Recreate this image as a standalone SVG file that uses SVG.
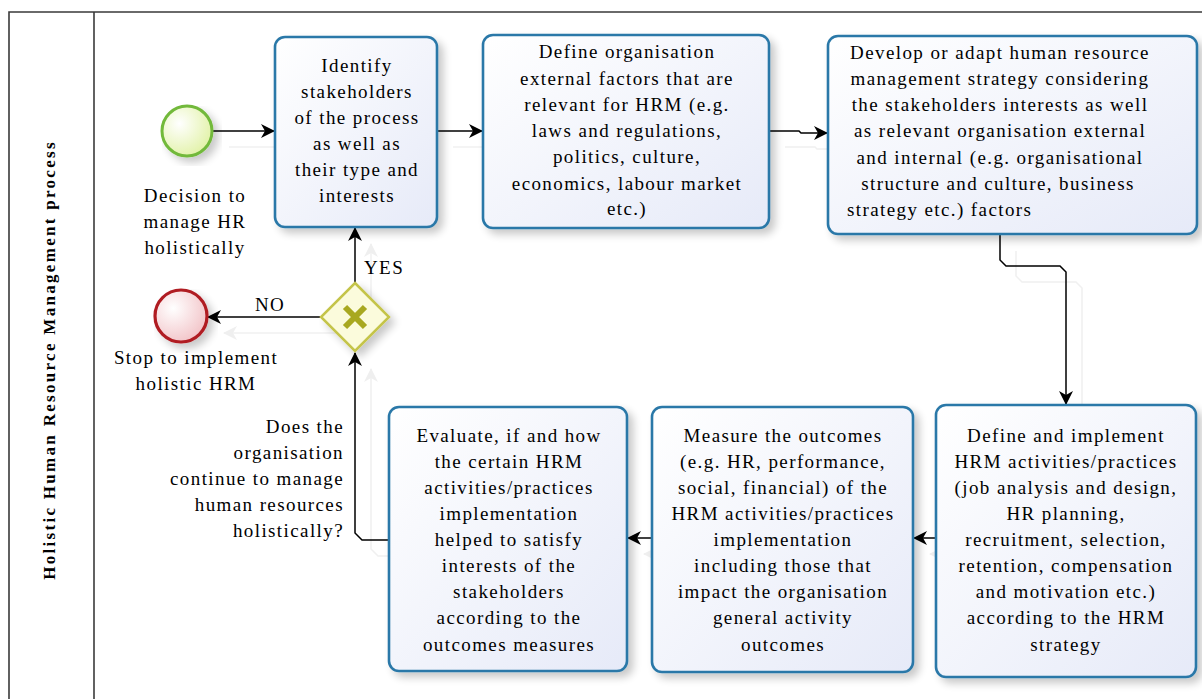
<svg xmlns="http://www.w3.org/2000/svg" width="1202" height="699" viewBox="0 0 1202 699">
<defs>
<linearGradient id="taskFill" x1="0" y1="0" x2="1" y2="1">
<stop offset="0" stop-color="#ffffff"/>
<stop offset="1" stop-color="#e6eaf8"/>
</linearGradient>
<radialGradient id="startFill" cx="0.35" cy="0.35" r="0.7">
<stop offset="0" stop-color="#ffffff"/>
<stop offset="1" stop-color="#e2f2a8"/>
</radialGradient>
<radialGradient id="endFill" cx="0.35" cy="0.35" r="0.7">
<stop offset="0" stop-color="#ffffff"/>
<stop offset="1" stop-color="#f2c4c8"/>
</radialGradient>
<filter id="shadow" x="-10%" y="-10%" width="130%" height="130%">
<feGaussianBlur in="SourceAlpha" stdDeviation="4"/>
<feOffset dx="5" dy="5" result="b"/>
<feComponentTransfer><feFuncA type="linear" slope="0.22"/></feComponentTransfer>
<feMerge><feMergeNode/><feMergeNode in="SourceGraphic"/></feMerge>
</filter>
<marker id="arrow" viewBox="0 0 14 14" refX="13" refY="7" markerWidth="14" markerHeight="14" markerUnits="userSpaceOnUse" orient="auto">
<path d="M0,0 L14,7 L0,14 L4,7 Z" fill="#000"/>
</marker>
<marker id="arrowGhost" viewBox="0 0 14 14" refX="13" refY="7" markerWidth="14" markerHeight="14" markerUnits="userSpaceOnUse" orient="auto">
<path d="M0,0 L14,7 L0,14 L4,7 Z" fill="#efefef"/>
</marker>
</defs>
<style>
.frame{fill:none;stroke:#3a3a3a;stroke-width:1.6}
.task{fill:url(#taskFill);stroke:#2a78a8;stroke-width:2.6;filter:url(#shadow)}
.t{font-family:"Liberation Serif","Times New Roman",serif;font-size:19px;letter-spacing:1.4px;fill:#000;text-anchor:middle}
.tr{text-anchor:end}
.tl{text-anchor:start}
.conn{fill:none;stroke:#000;stroke-width:1.5;marker-end:url(#arrow)}
.ghost{fill:none;stroke:#f0f0f0;stroke-width:1.5;marker-end:url(#arrowGhost)}
.lane{font-family:"Liberation Serif","Times New Roman",serif;font-size:17px;letter-spacing:2.3px;font-weight:bold;fill:#000;text-anchor:middle}
</style>
<rect width="1202" height="699" fill="#ffffff"/>
<g id="pool">
<path class="frame" d="M9,705 L9,12 L1210,12"/>
<line class="frame" x1="94" y1="12" x2="94" y2="705"/>
<text class="lane" transform="translate(55,360) rotate(-90)">Holistic Human Resource Management process</text>
</g>
<g id="connector-shadows" transform="translate(16,16)">
<path class="ghost" d="M213,131 L274,131"/>
<path class="ghost" d="M437,131 L482,131"/>
<path class="ghost" d="M769,131 L799,131 L801,133 L827,133"/>
<path class="ghost" d="M1000,235 L1000,260 L1006,266 L1060,266 L1066,272 L1066,404"/>
<path class="ghost" d="M936,538 L914,538"/>
<path class="ghost" d="M652,538 L628,538"/>
<path class="ghost" d="M389,540 L362,540 L355,533 L355,353"/>
<path class="ghost" d="M355,282 L355,228"/>
<path class="ghost" d="M320,317 L208,317"/>
</g>
<g id="connectors">
<path class="conn" d="M213,131 L274,131"/>
<path class="conn" d="M437,131 L482,131"/>
<path class="conn" d="M769,131 L799,131 L801,133 L827,133"/>
<path class="conn" d="M1000,235 L1000,260 L1006,266 L1060,266 L1066,272 L1066,404"/>
<path class="conn" d="M936,538 L914,538"/>
<path class="conn" d="M652,538 L628,538"/>
<path class="conn" d="M389,540 L362,540 L355,533 L355,353"/>
<path class="conn" d="M355,282 L355,228"/>
<path class="conn" d="M320,317 L208,317"/>
<text class="t tl" x="364" y="274">YES</text>
<text class="t tl" x="255" y="311">NO</text>
</g>
<g id="start">
<circle cx="187" cy="131" r="25" fill="url(#startFill)" stroke="#72b93a" stroke-width="3" filter="url(#shadow)"/>
<text class="t" x="195" y="202">Decision to</text>
<text class="t" x="195" y="228">manage HR</text>
<text class="t" x="195" y="254">holistically</text>
</g>
<g id="end">
<circle cx="181" cy="316" r="26" fill="url(#endFill)" stroke="#b01c22" stroke-width="3.2" filter="url(#shadow)"/>
<text class="t" x="196" y="364">Stop to implement</text>
<text class="t" x="196" y="390">holistic HRM</text>
</g>
<g id="gateway">
<path d="M355,283 L389,317 L355,351 L321,317 Z" fill="#fbfbdc" stroke="#c4c44a" stroke-width="2.5" filter="url(#shadow)"/>
<path d="M345,307 L365,327 M365,307 L345,327" stroke="#a8a820" stroke-width="6"/>
<text class="t tr" x="344" y="433">Does the</text>
<text class="t tr" x="344" y="459">organisation</text>
<text class="t tr" x="344" y="485">continue to manage</text>
<text class="t tr" x="344" y="511">human resources</text>
<text class="t tr" x="344" y="537">holistically?</text>
</g>
<g id="task1">
<rect class="task" x="275" y="37" width="162" height="190" rx="10"/>
<text class="t" x="357" y="72">Identify</text>
<text class="t" x="357" y="98">stakeholders</text>
<text class="t" x="357" y="124">of the process</text>
<text class="t" x="357" y="150">as well as</text>
<text class="t" x="357" y="176">their type and</text>
<text class="t" x="357" y="202">interests</text>
</g>
<g id="task2">
<rect class="task" x="483" y="35" width="286" height="193" rx="10"/>
<text class="t" x="627" y="58">Define organisation</text>
<text class="t" x="627" y="85">external factors that are</text>
<text class="t" x="627" y="111">relevant for  HRM (e.g.</text>
<text class="t" x="627" y="137">laws and regulations,</text>
<text class="t" x="627" y="163">politics, culture,</text>
<text class="t" x="627" y="190">economics, labour market</text>
<text class="t" x="627" y="215">etc.)</text>
</g>
<g id="task3">
<rect class="task" x="828" y="36" width="369" height="198" rx="10"/>
<text class="t" x="1000" y="59">Develop or adapt human resource</text>
<text class="t" x="1000" y="85">management strategy considering</text>
<text class="t" x="1000" y="111">the stakeholders interests as well</text>
<text class="t" x="1000" y="137">as relevant organisation external</text>
<text class="t" x="1000" y="164">and internal (e.g. organisational</text>
<text class="t" x="998" y="190">structure and culture, business</text>
<text class="t tl" x="847" y="216">strategy etc.) factors</text>
</g>
<g id="task4">
<rect class="task" x="936" y="405" width="260" height="272" rx="10"/>
<text class="t" x="1066" y="442">Define and implement</text>
<text class="t" x="1066" y="468">HRM activities/practices</text>
<text class="t" x="1066" y="494">(job analysis and design,</text>
<text class="t" x="1066" y="520">HR planning,</text>
<text class="t" x="1066" y="546">recruitment, selection,</text>
<text class="t" x="1066" y="572">retention, compensation</text>
<text class="t" x="1066" y="598">and motivation etc.)</text>
<text class="t" x="1066" y="624">according to the HRM</text>
<text class="t" x="1066" y="651">strategy</text>
</g>
<g id="task5">
<rect class="task" x="652" y="407" width="261" height="265" rx="10"/>
<text class="t" x="783" y="442">Measure the outcomes</text>
<text class="t" x="783" y="468">(e.g. HR, performance,</text>
<text class="t" x="783" y="494">social, financial) of the</text>
<text class="t" x="783" y="520">HRM activities/practices</text>
<text class="t" x="783" y="546">implementation</text>
<text class="t" x="783" y="572">including those that</text>
<text class="t" x="783" y="598">impact the organisation</text>
<text class="t" x="783" y="624">general activity</text>
<text class="t" x="783" y="651">outcomes</text>
</g>
<g id="task6">
<rect class="task" x="389" y="407" width="238" height="264" rx="10"/>
<text class="t" x="509" y="442">Evaluate, if and how</text>
<text class="t" x="509" y="468">the certain  HRM</text>
<text class="t" x="509" y="494">activities/practices</text>
<text class="t" x="509" y="520">implementation</text>
<text class="t" x="509" y="546">helped to satisfy</text>
<text class="t" x="509" y="572">interests of the</text>
<text class="t" x="509" y="598">stakeholders</text>
<text class="t" x="509" y="624">according to the</text>
<text class="t" x="509" y="651">outcomes measures</text>
</g>
</svg>
